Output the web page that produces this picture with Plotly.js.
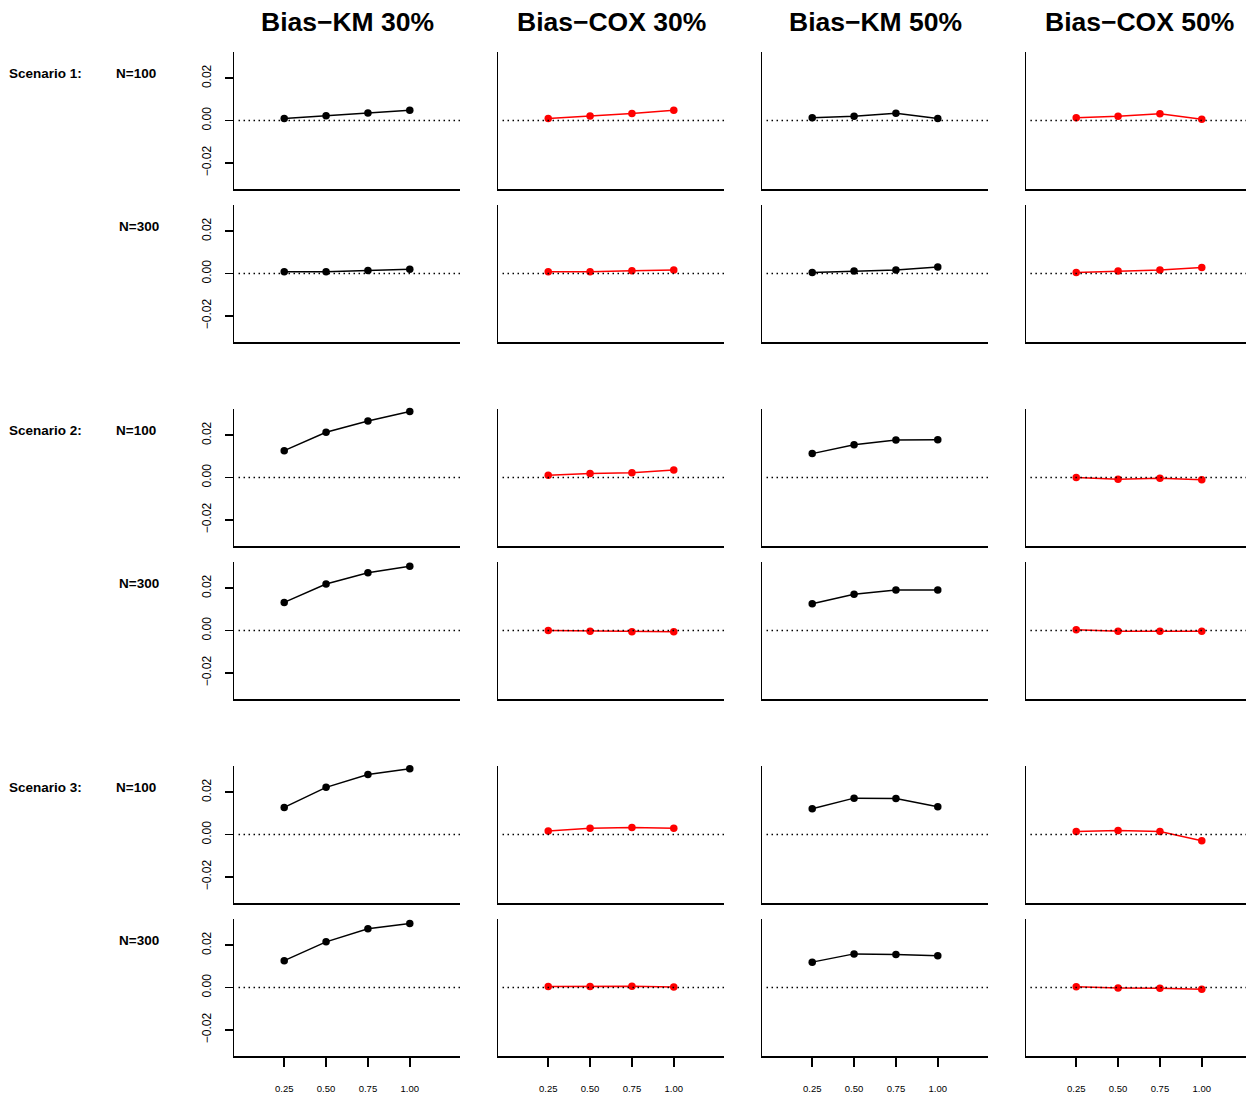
<!DOCTYPE html>
<html>
<head>
<meta charset="utf-8">
<script src="https://cdn.plot.ly/plotly-3.0.1.min.js"></script>
<style>html,body{margin:0;padding:0;background:#fff;}#chart{width:1246px;height:1097px;}</style>
</head>
<body>
<div id="chart"></div>
<script>
// ---- data ----
const xVals = [0.25, 0.50, 0.75, 1.00];
const xTickText = ["0.25", "0.50", "0.75", "1.00"];
const yTickVals = [-0.02, 0.00, 0.02];
const yTickText = ["\u22120.02", "0.00", "0.02"];
const columnTitles = ["Bias\u2212KM 30%", "Bias\u2212COX 30%", "Bias\u2212KM 50%", "Bias\u2212COX 50%"];
const scenarioLabels = ["Scenario 1:", "Scenario 2:", "Scenario 3:"];
const sampleLabels = ["N=100", "N=300"];

// Scenario 1
const s1n100_km30 = [0.0010, 0.0022, 0.0035, 0.0049];
const s1n100_cox30 = [0.0010, 0.0021, 0.0033, 0.0048];
const s1n100_km50 = [0.0013, 0.0020, 0.0034, 0.0010];
const s1n100_cox50 = [0.0013, 0.0020, 0.0032, 0.0006];
const s1n300_km30 = [0.0008, 0.0008, 0.0014, 0.0020];
const s1n300_cox30 = [0.0008, 0.0008, 0.0013, 0.0017];
const s1n300_km50 = [0.0005, 0.0012, 0.0017, 0.0031];
const s1n300_cox50 = [0.0005, 0.0012, 0.0017, 0.0028];
// Scenario 2
const s2n100_km30 = [0.0127, 0.0214, 0.0267, 0.0312];
const s2n100_cox30 = [0.0011, 0.0019, 0.0022, 0.0036];
const s2n100_km50 = [0.0113, 0.0155, 0.0177, 0.0178];
const s2n100_cox50 = [0.0000, -0.0008, -0.0003, -0.0011];
const s2n300_km30 = [0.0133, 0.0220, 0.0273, 0.0304];
const s2n300_cox30 = [0.0000, -0.0003, -0.0006, -0.0006];
const s2n300_km50 = [0.0127, 0.0171, 0.0191, 0.0192];
const s2n300_cox50 = [0.0003, -0.0003, -0.0003, -0.0003];
// Scenario 3
const s3n100_km30 = [0.0128, 0.0223, 0.0284, 0.0311];
const s3n100_cox30 = [0.0017, 0.0030, 0.0033, 0.0030];
const s3n100_km50 = [0.0122, 0.0172, 0.0170, 0.0131];
const s3n100_cox50 = [0.0014, 0.0019, 0.0014, -0.0030];
const s3n300_km30 = [0.0127, 0.0216, 0.0278, 0.0303];
const s3n300_cox30 = [0.0005, 0.0005, 0.0006, 0.0002];
const s3n300_km50 = [0.0120, 0.0159, 0.0156, 0.0150];
const s3n300_cox50 = [0.0003, -0.0002, -0.0003, -0.0008];

const rows = [
  [s1n100_km30, s1n100_cox30, s1n100_km50, s1n100_cox50],
  [s1n300_km30, s1n300_cox30, s1n300_km50, s1n300_cox50],
  [s2n100_km30, s2n100_cox30, s2n100_km50, s2n100_cox50],
  [s2n300_km30, s2n300_cox30, s2n300_km50, s2n300_cox50],
  [s3n100_km30, s3n100_cox30, s3n100_km50, s3n100_cox50],
  [s3n300_km30, s3n300_cox30, s3n300_km50, s3n300_cox50]
];
const colColors = ["#000000", "#FF0000", "#000000", "#FF0000"];

// ---- layout geometry (pixels) ----
const W = 1246, H = 1097;
const colLeft = [234, 498, 762, 1026];
const colWidth = 226;
const rowTop = [52, 205, 409, 562, 766, 919];
const rowHeight = 137;
const pxPerUnit = colWidth / 1.35;
const FONT = "Liberation Sans, Arial, Helvetica, sans-serif";

const traces = [];
const layout = {
  width: W, height: H,
  margin: {l: 0, r: 0, t: 0, b: 0},
  paper_bgcolor: "#fff", plot_bgcolor: "#fff",
  showlegend: false,
  font: {family: FONT, color: "#000"},
  annotations: [], shapes: []
};

rows.forEach((rowData, r) => {
  rowData.forEach((vals, c) => {
    const k = r * 4 + c + 1;
    const xa = k === 1 ? "x" : "x" + k;
    const ya = k === 1 ? "y" : "y" + k;
    traces.push({
      x: xVals, y: vals, xaxis: xa, yaxis: ya,
      type: "scatter", mode: "lines+markers",
      line: {color: colColors[c], width: 1.5},
      marker: {color: colColors[c], size: 7.5},
      cliponaxis: false, hoverinfo: "skip"
    });
    const left = colLeft[c];
    const right = Math.min(left + colWidth, W);
    const xmax = -0.05 + (right - left) / pxPerUnit;
    const bottomRow = r === rows.length - 1;
    const firstCol = c === 0;
    layout["xaxis" + (k === 1 ? "" : k)] = {
      domain: [left / W, right / W],
      range: [-0.05, xmax],
      anchor: ya,
      showgrid: false, zeroline: false,
      showline: true, linecolor: "#000", linewidth: 1.5,
      tickvals: xVals, ticktext: xTickText,
      ticks: bottomRow ? "outside" : "",
      ticklen: 9, tickwidth: 1.5, tickcolor: "#000",
      showticklabels: bottomRow,
      ticklabelstandoff: 14,
      tickfont: {size: 9.5, family: FONT, color: "#000"},
      fixedrange: true
    };
    const top = rowTop[r];
    layout["yaxis" + (k === 1 ? "" : k)] = {
      domain: [(H - top - rowHeight) / H, (H - top) / H],
      range: [-0.0324, 0.0324],
      anchor: xa,
      showgrid: false, zeroline: false,
      showline: true, linecolor: "#000", linewidth: 1.5,
      tickvals: yTickVals, ticktext: yTickText,
      ticks: firstCol ? "outside" : "", ticklen: 8, tickwidth: 1.5, tickcolor: "#000",
      showticklabels: firstCol,
      tickangle: -90,
      ticklabelstandoff: 9,
      tickfont: {size: 12, family: FONT, color: "#000"},
      fixedrange: true
    };
    layout.shapes.push({
      type: "line", xref: xa + " domain", yref: ya,
      x0: 0.02, x1: 1, y0: 0, y1: 0,
      line: {color: "#000", width: 1.5, dash: "1.5px,3.5px"}
    });
  });
});

// column titles
columnTitles.forEach((t, c) => {
  layout.annotations.push({
    text: "<b>" + t + "</b>", xref: "paper", yref: "paper",
    x: (colLeft[c] + colWidth / 2) / W, y: (H - 22) / H,
    xanchor: "center", yanchor: "middle", showarrow: false,
    font: {size: 26.5, family: FONT, color: "#000"}
  });
});

// row labels
const scenY = [73, 430, 787];
scenarioLabels.forEach((t, i) => {
  layout.annotations.push({
    text: "<b>" + t + "</b>", xref: "paper", yref: "paper",
    x: 7 / W, y: (H - scenY[i]) / H, xanchor: "left", yanchor: "middle",
    showarrow: false, font: {size: 13.5, family: FONT, color: "#000"}
  });
});
const nY = [73, 226, 430, 583, 787, 940];
nY.forEach((yy, i) => {
  const lbl = sampleLabels[i % 2];
  layout.annotations.push({
    text: "<b>" + lbl + "</b>", xref: "paper", yref: "paper",
    x: (i % 2 === 0 ? 114 : 117) / W, y: (H - yy) / H, xanchor: "left", yanchor: "middle",
    showarrow: false, font: {size: 13.5, family: FONT, color: "#000"}
  });
});

Plotly.newPlot("chart", traces, layout, {staticPlot: true, displayModeBar: false});
</script>
</body>
</html>
